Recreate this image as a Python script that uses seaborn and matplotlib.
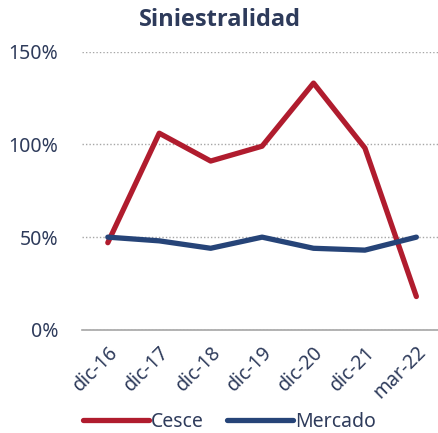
import matplotlib
matplotlib.use('Agg')
import pandas as pd
import matplotlib.pyplot as plt
import seaborn as sns
from matplotlib.ticker import PercentFormatter

# datos
periodos = ['dic-16', 'dic-17', 'dic-18', 'dic-19', 'dic-20', 'dic-21', 'mar-22']
cesce = [47, 106, 91, 99, 133, 98, 18]
mercado = [50, 48, 44, 50, 44, 43, 50]

df = pd.DataFrame({'periodo': periodos, 'Cesce': cesce, 'Mercado': mercado})
df = df.melt(id_vars='periodo', var_name='serie', value_name='valor')

sns.set_style('white')
plt.rcParams['font.family'] = ['Noto Sans', 'DejaVu Sans']
texto = '#2E3B5B'

fig = plt.figure(figsize=(4.39, 4.33), dpi=100)
ax = fig.add_axes([0.187, 0.238, 0.82, 0.643])

sns.lineplot(data=df, x='periodo', y='valor', hue='serie', ax=ax,
             palette={'Cesce': '#B01C2E', 'Mercado': '#264478'},
             linewidth=3.8, sort=False)
for l in ax.lines:
    l.set_solid_capstyle('round')

ax.set_xlim(-0.5, 6.5)
ax.set_ylim(0, 150)
ax.set_yticks([0, 50, 100, 150])
ax.yaxis.set_major_formatter(PercentFormatter(decimals=0))
ax.yaxis.grid(True, linestyle=(0, (1, 1.5)), color='#A6A6A6', linewidth=1)
ax.set_axisbelow(True)
for s in ['top', 'right', 'left']:
    ax.spines[s].set_visible(False)
ax.spines['bottom'].set_color('#A6A6A6')
ax.spines['bottom'].set_linewidth(1.2)
ax.spines['bottom'].set_zorder(0)

ax.set_xticks(range(len(periodos)))
ax.set_xticklabels(periodos, rotation=45, ha='right', rotation_mode='anchor')
ax.tick_params(axis='both', length=0, labelsize=14, colors=texto)
ax.tick_params(axis='x', pad=9)
ax.tick_params(axis='y', pad=17)
ax.set_xlabel('')
ax.set_ylabel('')

fig.text(0.5, 0.953, 'Siniestralidad', fontsize=17, fontweight='bold', color=texto,
         ha='center', va='center', family=['Open Sans', 'DejaVu Sans'])

leg = ax.legend(loc='center', bbox_to_anchor=(0.41, -0.33), ncol=2, frameon=False,
                fontsize=14, handlelength=3.4, handletextpad=0.1, columnspacing=1.2)
for t in leg.get_texts():
    t.set_color(texto)
for h in leg.get_lines():
    h.set_linewidth(3.8)
    h.set_solid_capstyle('round')

fig.savefig('out.png', dpi=100)
